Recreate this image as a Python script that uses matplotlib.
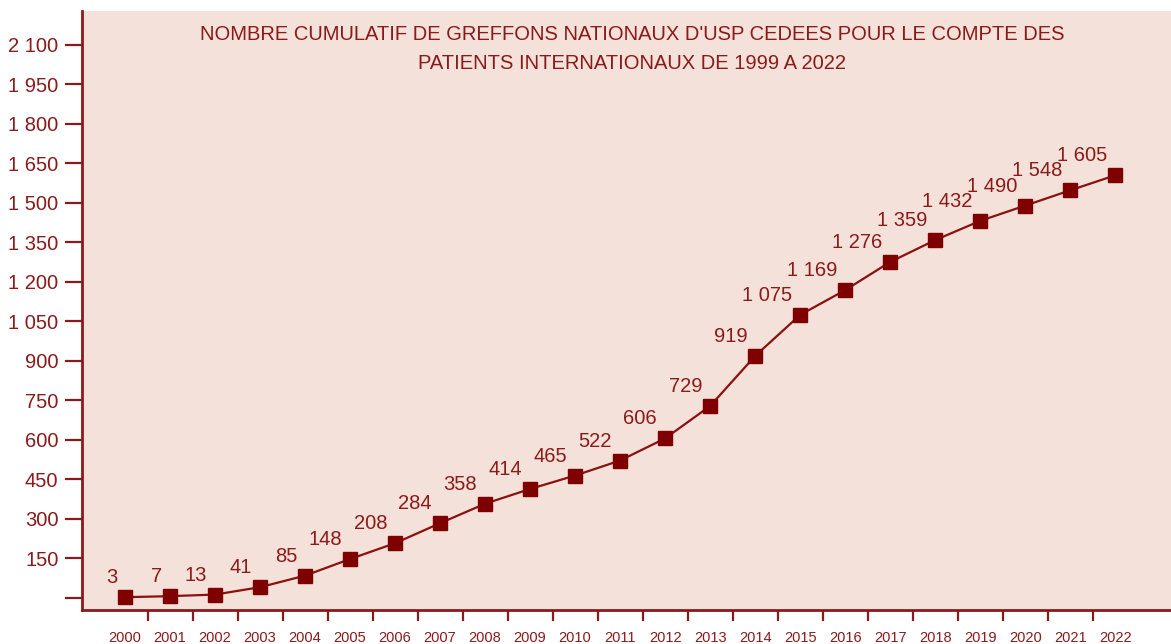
import numpy as np
import matplotlib.pyplot as plt
from matplotlib.ticker import FixedLocator

plt.rcParams['font.family'] = ['Liberation Sans', 'DejaVu Sans']

# --- data
years = [str(y) for y in range(2000, 2023)]
cumul = [3, 7, 13, 41, 85, 148, 208, 284, 358, 414, 465, 522, 606,
         729, 919, 1075, 1169, 1276, 1359, 1432, 1490, 1548, 1605]
yticks = list(range(0, 2101, 150))
title = ("NOMBRE CUMULATIF DE GREFFONS NATIONAUX D'USP CEDEES POUR LE COMPTE DES\n"
         "PATIENTS INTERNATIONAUX DE 1999 A 2022")

red = '#8B1A1A'
bg = '#F4E1D9'

fig = plt.figure(figsize=(11.71, 6.44), dpi=100)
ax = fig.add_axes([82/1171, 34/644, 1 - 82/1171, (610-11)/644])
ax.set_facecolor(bg)

x = np.arange(len(years))
ax.plot(x, cumul, color='#8B1010', lw=1.6, marker='s', ms=9.5,
        mfc='#7F0000', mec='#7F0000', zorder=3)

def fmt(v):
    return f'{v:,}'.replace(',', ' ')

for xi, v in zip(x, cumul):
    ax.annotate(fmt(v), (xi, v), xytext=(-8, 10), textcoords='offset pixels',
                ha='right', va='bottom', fontsize=14.5, color=red)

ax.set_xlim(-0.956, 23.24)
ax.set_ylim(-45.6, 2229)

ax.set_yticks(yticks)
ax.set_yticklabels(['' if t == 0 else fmt(t) for t in yticks])
ax.set_xticks(x)
ax.set_xticklabels(years)
ax.xaxis.set_minor_locator(FixedLocator(x[:-1] + 0.5))
ax.tick_params(axis='x', which='major', length=0, pad=15, labelsize=10.5, labelcolor=red)
ax.tick_params(axis='x', which='minor', length=8, width=1.6, color=red)
ax.tick_params(axis='y', length=12, width=1.6, color=red, labelsize=14.5,
               labelcolor=red, pad=5)

for s in ['top', 'right']:
    ax.spines[s].set_visible(False)
for s in ['left', 'bottom']:
    ax.spines[s].set_color(red)
    ax.spines[s].set_linewidth(2)

fig.text(632/1171, 1 - 49/644, title, ha='center', va='center',
         fontsize=14.5, color=red, linespacing=1.65)

fig.savefig('out.png', dpi=100)
